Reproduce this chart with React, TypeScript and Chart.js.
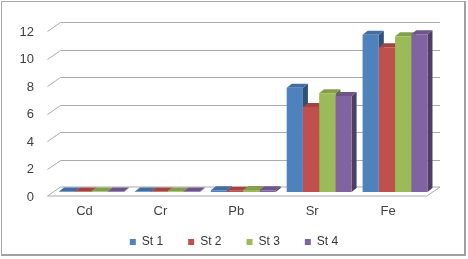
import React, { useEffect, useRef } from "react";
import { Chart, registerables } from "chart.js";

Chart.register(...registerables);

const categories = ["Cd", "Cr", "Pb", "Sr", "Fe"];
const seriesNames = ["St 1", "St 2", "St 3", "St 4"];
const st1 = [0.04, 0.04, 0.12, 7.6, 11.45];
const st2 = [0.04, 0.04, 0.1, 6.2, 10.55];
const st3 = [0.04, 0.04, 0.14, 7.2, 11.35];
const st4 = [0.04, 0.04, 0.12, 7.0, 11.5];
const seriesColors = ["#4F81BD", "#C0504D", "#9BBB59", "#8064A2"];
const yMax = 12;
const yStep = 2;

const BACK = { dx: 7, dy: -5 };
const FRONT = { dx: -6, dy: 4 };
const BAR = { dx: 5, dy: -4 };

function shade(hex: string, f: number) {
  const n = parseInt(hex.slice(1), 16);
  const r = Math.round(((n >> 16) & 255) * f);
  const g = Math.round(((n >> 8) & 255) * f);
  const b = Math.round((n & 255) * f);
  return `rgb(${Math.min(255, r)},${Math.min(255, g)},${Math.min(255, b)})`;
}

const box3d = {
  id: "box3d",
  beforeDatasetsDraw(chart: any) {
    const { ctx, chartArea: a, scales } = chart;
    const y = scales.y;
    ctx.save();
    ctx.lineWidth = 1;
    ctx.strokeStyle = "#ababab";
    const y0 = y.getPixelForValue(0);
    ctx.beginPath();
    ctx.moveTo(a.left + FRONT.dx, y0 + FRONT.dy);
    ctx.lineTo(a.right + FRONT.dx, y0 + FRONT.dy);
    ctx.lineTo(a.right + BACK.dx, y0 + BACK.dy);
    ctx.lineTo(a.left + BACK.dx, y0 + BACK.dy);
    ctx.closePath();
    ctx.fillStyle = "#ffffff";
    ctx.fill();
    ctx.stroke();
    y.ticks.forEach((t: any) => {
      if (t.value === 0) return;
      const py = Math.round(y.getPixelForValue(t.value)) + 0.5;
      ctx.beginPath();
      ctx.moveTo(a.left + FRONT.dx, py + FRONT.dy);
      ctx.lineTo(a.left + BACK.dx, py + BACK.dy);
      ctx.lineTo(a.right + BACK.dx, py + BACK.dy);
      ctx.stroke();
    });
    const n = chart.data.datasets.length;
    for (let c = 0; c < categories.length; c++) {
      for (let d = 0; d < n; d++) {
        const el = chart.getDatasetMeta(d).data[c];
        const p = el.getProps(["x", "y", "width", "base"], true);
        const l = p.x - p.width / 2;
        const r = p.x + p.width / 2;
        const top = p.y;
        const base = p.base;
        const col = seriesColors[d];
        ctx.fillStyle = shade(col, 0.62);
        ctx.beginPath();
        ctx.moveTo(r, top);
        ctx.lineTo(r + BAR.dx, top + BAR.dy);
        ctx.lineTo(r + BAR.dx, base + BAR.dy);
        ctx.lineTo(r, base);
        ctx.closePath();
        ctx.fill();
        ctx.fillStyle = shade(col, 0.85);
        ctx.beginPath();
        ctx.moveTo(l, top);
        ctx.lineTo(r, top);
        ctx.lineTo(r + BAR.dx, top + BAR.dy);
        ctx.lineTo(l + BAR.dx, top + BAR.dy);
        ctx.closePath();
        ctx.fill();
      }
    }
    ctx.restore();
  },
};

export default function App() {
  const ref = useRef<HTMLCanvasElement>(null);
  useEffect(() => {
    document.body.style.margin = "0";
    const series = [st1, st2, st3, st4];
    const chart = new Chart(ref.current as HTMLCanvasElement, {
      type: "bar",
      data: {
        labels: categories,
        datasets: series.map((s, i) => ({
          label: seriesNames[i],
          data: s,
          backgroundColor: seriesColors[i],
          borderWidth: 0,
          barPercentage: 1,
          categoryPercentage: 0.855,
          yAxisID: "y",
        })),
      },
      options: {
        responsive: false,
        animation: false,
        layout: { padding: { top: 24, right: 0, bottom: 1, left: 0 } },
        plugins: {
          tooltip: { enabled: false },
          legend: {
            position: "bottom",
            labels: {
              boxWidth: 6,
              boxHeight: 6,
              padding: 25,
              color: "#333333",
              font: { family: "'Liberation Sans', Arial, sans-serif", size: 12 },
            },
          },
        },
        scales: {
          x: {
            grid: { display: false, drawTicks: false },
            border: { display: false },
            ticks: {
              color: "#404040",
              mirror: true,
              padding: -27.5,
              labelOffset: -7,
              font: { family: "'Liberation Sans', Arial, sans-serif", size: 13 },
            },
            afterFit: (s: any) => {
              s.height = 19;
            },
          },
          y: {
            min: 0,
            max: yMax,
            position: "left",
            grid: { display: false, drawTicks: false },
            border: { display: false },
            ticks: {
              stepSize: yStep,
              color: "#404040",
              padding: 19.5,
              labelOffset: 5,
              font: { family: "'Liberation Sans', Arial, sans-serif", size: 13 },
            },
            afterFit: (s: any) => {
              s.width = 53.5;
            },
          },
          yRight: {
            position: "right",
            min: 0,
            max: yMax,
            grid: { display: false, drawTicks: false },
            border: { display: false },
            ticks: { display: false },
            afterFit: (s: any) => {
              s.width = 35;
            },
          },
        },
      },
      plugins: [box3d],
    });
    return () => chart.destroy();
  }, []);
  return (
    <div style={{ position: "relative", width: 468, height: 259, background: "#fff" }}>
      <canvas ref={ref} width={468} height={259} style={{ display: "block" }} />
      <div
        style={{
          position: "absolute",
          left: 1,
          top: 1,
          width: 462,
          height: 252,
          borderLeft: "1px solid #a8a8a8",
          borderTop: "1px solid #a8a8a8",
          borderRight: "2px solid #a0a0a0",
          borderBottom: "2px solid #a0a0a0",
          pointerEvents: "none",
        }}
      />
    </div>
  );
}
